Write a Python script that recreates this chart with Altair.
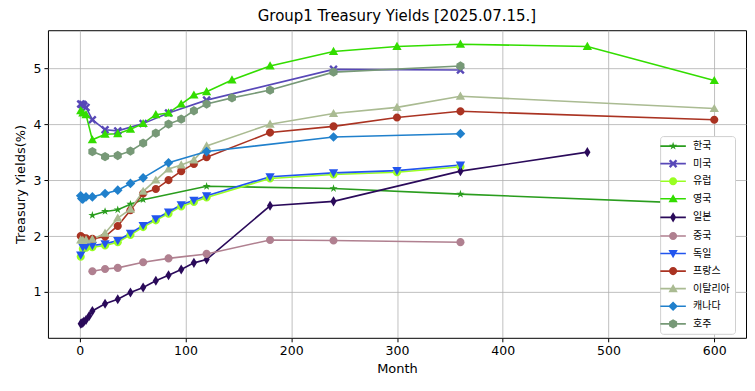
import altair as alt
import pandas as pd

countries = ["한국", "미국", "유럽", "영국", "일본", "중국", "독일", "프랑스", "이탈리아", "캐나다", "호주"]
colors = ["#2a9d1e", "#5848b8", "#99ff22", "#33dd00", "#2a0a5a", "#b08090",
          "#2255ee", "#aa3322", "#aabb92", "#2080cc", "#779977"]

STAR = "M0,-1.1L0.247,-0.34L1.046,-0.34L0.4,0.13L0.647,0.89L0,0.42L-0.647,0.89L-0.4,0.13L-1.046,-0.34L-0.247,-0.34Z"
XSHAPE = "M-1.1,-0.66L-0.66,-1.1L0,-0.44L0.66,-1.1L1.1,-0.66L0.44,0L1.1,0.66L0.66,1.1L0,0.44L-0.66,1.1L-1.1,0.66L-0.44,0Z"
CIRC = "M1.05,0A1.05,1.05 0 1,1 -1.05,0A1.05,1.05 0 1,1 1.05,0Z"
TUP = "M0,-1.2L1.2,0.9L-1.2,0.9Z"
TDN = "M-1.2,-0.9L1.2,-0.9L0,1.2Z"
THIN_D = "M0,-1.3L0.8,0L0,1.3L-0.8,0Z"
DIAM = "M0,-1.25L1.25,0L0,1.25L-1.25,0Z"
HEX = "M0,-1.2L1.04,-0.6L1.04,0.6L0,1.2L-1.04,0.6L-1.04,-0.6Z"
shapes = [STAR, XSHAPE, CIRC, TUP, THIN_D, CIRC, TDN, CIRC, TUP, DIAM, HEX]
LINE = "M-3.3,-0.21L3.3,-0.21L3.3,0.21L-3.3,0.21Z"
legend_shapes = [s + LINE for s in shapes]

kr_m = [12, 24, 36, 48, 60, 120, 240, 360, 600]
kr_y = [2.37, 2.44, 2.47, 2.57, 2.65, 2.89, 2.85, 2.75, 2.57]

us_m = [1, 2, 3, 4, 6, 12, 24, 36, 60, 84, 120, 240, 360]
us_y = [4.36, 4.35, 4.35, 4.33, 4.30, 4.08, 3.90, 3.88, 4.01, 4.20, 4.43, 4.98, 4.97]

de_m = [1, 3, 6, 12, 24, 36, 48, 60, 72, 84, 96, 108, 120, 180, 240, 300, 360]
de_y = [1.66, 1.80, 1.82, 1.83, 1.86, 1.92, 2.05, 2.19, 2.31, 2.43, 2.56, 2.64, 2.72, 3.06, 3.13, 3.17, 3.27]

eu_m = [1, 3, 6, 12, 24, 36, 48, 60, 72, 84, 96, 108, 120, 180, 240, 300, 360]
eu_y = [1.63, 1.77, 1.79, 1.80, 1.83, 1.89, 2.02, 2.16, 2.28, 2.40, 2.53, 2.61, 2.69, 3.03, 3.10, 3.14, 3.24]

uk_m = [1, 3, 6, 12, 24, 36, 48, 60, 72, 84, 96, 108, 120, 144, 180, 240, 300, 360, 480, 600]
uk_y = [4.24, 4.20, 4.17, 3.72, 3.82, 3.83, 3.91, 4.01, 4.17, 4.20, 4.36, 4.52, 4.58, 4.79, 5.04, 5.30, 5.39, 5.43, 5.39, 4.78]

jp_m = [1, 2, 3, 4, 6, 9, 12, 24, 36, 48, 60, 72, 84, 96, 108, 120, 180, 240, 360, 480]
jp_y = [0.43, 0.44, 0.45, 0.47, 0.50, 0.57, 0.66, 0.79, 0.87, 0.99, 1.08, 1.20, 1.30, 1.40, 1.52, 1.58, 2.54, 2.62, 3.16, 3.50]

cn_m = [12, 24, 36, 60, 84, 120, 180, 240, 360]
cn_y = [1.37, 1.41, 1.43, 1.53, 1.60, 1.68, 1.93, 1.92, 1.89]

fr_m = [1, 3, 6, 12, 24, 36, 48, 60, 72, 84, 96, 108, 120, 180, 240, 300, 360, 600]
fr_y = [2.00, 1.97, 1.96, 1.95, 1.99, 2.18, 2.46, 2.76, 2.84, 3.00, 3.16, 3.29, 3.41, 3.85, 3.96, 4.12, 4.23, 4.08]

it_m = [1, 3, 6, 12, 24, 36, 48, 60, 72, 84, 96, 108, 120, 180, 240, 300, 360, 600]
it_y = [1.93, 1.92, 1.93, 1.94, 2.05, 2.32, 2.48, 2.80, 3.00, 3.20, 3.27, 3.36, 3.61, 4.00, 4.19, 4.30, 4.50, 4.28]

ca_m = [1, 2, 3, 6, 12, 24, 36, 48, 60, 84, 120, 240, 360]
ca_y = [2.72, 2.67, 2.66, 2.70, 2.70, 2.76, 2.82, 2.94, 3.04, 3.31, 3.51, 3.77, 3.83]

au_m = [12, 24, 36, 48, 60, 72, 84, 96, 108, 120, 144, 180, 240, 360]
au_y = [3.51, 3.42, 3.44, 3.52, 3.66, 3.84, 4.00, 4.09, 4.24, 4.36, 4.47, 4.61, 4.93, 5.04]

series = [(kr_m, kr_y), (us_m, us_y), (eu_m, eu_y), (uk_m, uk_y), (jp_m, jp_y), (cn_m, cn_y),
          (de_m, de_y), (fr_m, fr_y), (it_m, it_y), (ca_m, ca_y), (au_m, au_y)]

rows = []
for i, (name, (ms, ys)) in enumerate(zip(countries, series)):
    for m, y in zip(ms, ys):
        rows.append({"country": name, "month": m, "yield": y, "k": i})
df = pd.DataFrame(rows)

FONT = "DejaVu Sans, Noto Sans CJK KR"

x = alt.X("month:Q", title="Month",
          scale=alt.Scale(domain=[-30, 630], nice=False, zero=False),
          axis=alt.Axis(values=[0, 100, 200, 300, 400, 500, 600], format="d"))
y = alt.Y("yield:Q", title="Treasury Yields(%)",
          scale=alt.Scale(domain=[0.18, 5.68], nice=False, zero=False),
          axis=alt.Axis(values=[1, 2, 3, 4, 5], format="d"))

lines = alt.Chart(df).mark_line(strokeWidth=1.6).encode(
    x=x, y=y,
    color=alt.Color("country:N", scale=alt.Scale(domain=countries, range=colors), legend=None),
    detail="country:N", order="month:Q")
points = alt.Chart(df).mark_point(filled=True, opacity=1, size=60, strokeWidth=0).encode(
    x=x, y=y,
    color=alt.Color("country:N", scale=alt.Scale(domain=countries, range=colors), legend=None),
    shape=alt.Shape("country:N", scale=alt.Scale(domain=countries, range=shapes), legend=None),
    order="k:Q")

leg = alt.Legend(title=None, orient="none", legendX=613, legendY=106,
                 labelFontSize=10, labelFont=FONT, symbolSize=60,
                 symbolStrokeWidth=0, rowPadding=7.6, padding=5,
                 symbolOffset=3, labelOffset=15,
                 strokeColor="#d0d0d0", fillColor="white",
                 cornerRadius=3, symbolOpacity=1, labelColor="#000")
dummy = alt.Chart(df).transform_filter("datum.k < 0").mark_point(filled=True, size=60).encode(
    x=x, y=y,
    color=alt.Color("country:N", sort=countries,
                    scale=alt.Scale(domain=countries, range=colors), legend=leg),
    shape=alt.Shape("country:N", sort=countries,
                    scale=alt.Scale(domain=countries, range=legend_shapes), legend=leg))

chart = alt.layer(lines, points, dummy).resolve_scale(
    shape="independent", color="independent").properties(
    width=699, height=308,
    title=alt.Title("Group1 Treasury Yields [2025.07.15.]", fontSize=15, font=FONT,
                    fontWeight="normal", offset=6, color="#000"),
    autosize=alt.AutoSizeParams(type="none"),
    padding={"left": 40, "top": 22, "right": 1, "bottom": 45},
).configure_axis(
    grid=True, gridColor="#b0b0b0", gridWidth=0.8, domain=False,
    tickColor="#000", tickSize=4, labelFontSize=12.5, labelFont=FONT, labelColor="#000",
    titleFontSize=13, titleFont=FONT, titleFontWeight="normal", titleColor="#000",
    labelPadding=3,
).configure_axisY(titlePadding=6).configure_axisX(titlePadding=5).configure_view(
    stroke="#000", strokeWidth=1
)

chart.save("out.html", embed_options={"renderer": "svg", "actions": False})
